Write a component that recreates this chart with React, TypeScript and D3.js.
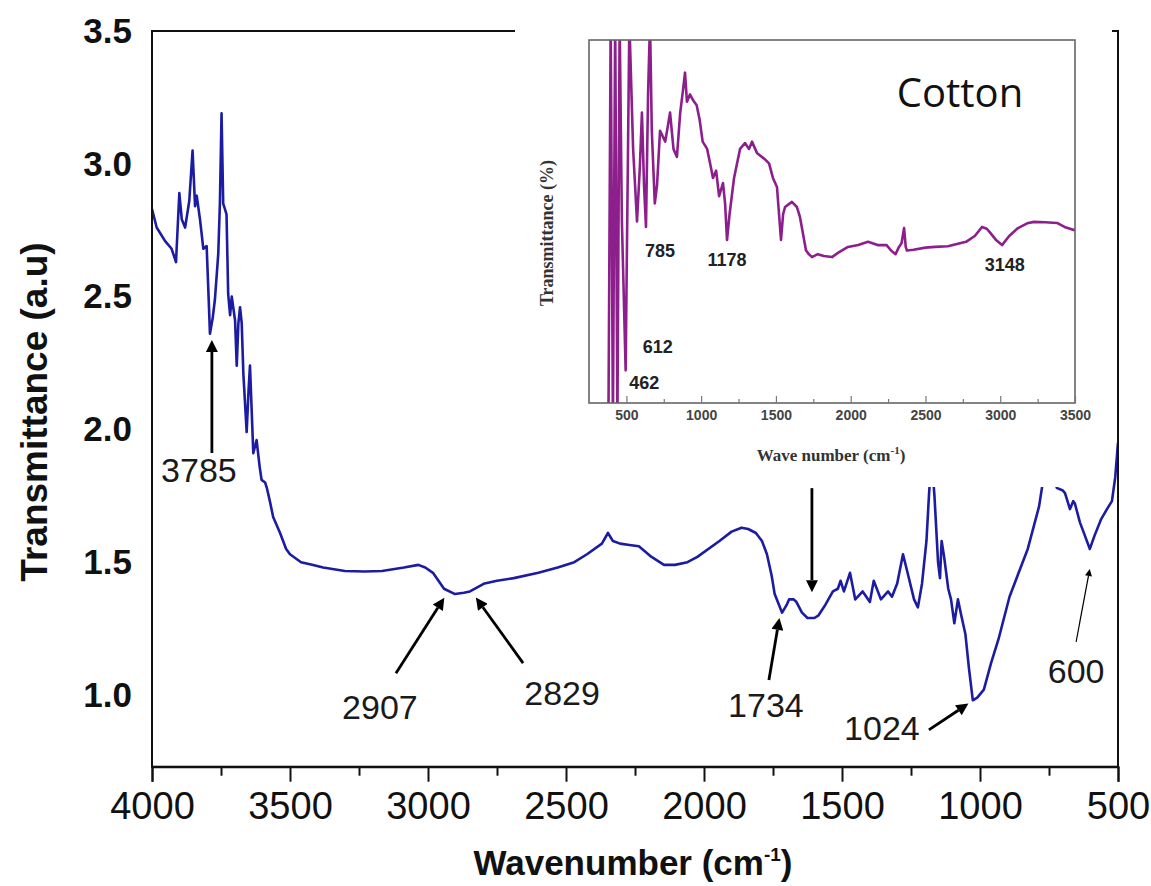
import React, { useEffect, useRef } from "react";
import * as d3 from "d3";

// main FTIR spectrum
const mainWavenumber = [
  4000, 3983, 3953, 3929, 3913, 3901, 3892, 3880, 3865, 3853, 3844, 3838, 3826, 3814, 3802, 3795,
  3790, 3780, 3772, 3760, 3754, 3748, 3742, 3736, 3730, 3724, 3717, 3711, 3699, 3693, 3687, 3681,
  3675, 3669, 3657, 3650, 3645, 3633, 3621, 3610, 3603, 3590, 3584, 3573, 3561, 3536, 3514, 3500,
  3460, 3420, 3380, 3301, 3230, 3167, 3087, 3035, 3010, 2982, 2942, 2902, 2870, 2848, 2795, 2750,
  2689, 2600, 2530, 2470, 2424, 2370, 2348, 2330, 2304, 2270, 2236, 2190, 2145, 2105, 2060, 2024,
  1944, 1900, 1864, 1840, 1812, 1790, 1772, 1755, 1744, 1717, 1700, 1692, 1675, 1665, 1645, 1625,
  1600, 1585, 1560, 1533, 1515, 1505, 1493, 1471, 1452, 1425, 1399, 1385, 1359, 1333, 1319, 1300,
  1279, 1260, 1239, 1225, 1210, 1194, 1185, 1176, 1165, 1152, 1145, 1139, 1130, 1115, 1105, 1093,
  1080, 1068, 1053, 1040, 1026, 1010, 986, 960, 933, 893, 860, 827, 786, 765, 740, 722,
  700, 692, 674, 662, 656, 638, 620, 602, 585, 562, 540, 522, 510, 500,
];
const mainTransmittance = [
  2.83, 2.76, 2.71, 2.68, 2.63, 2.89, 2.79, 2.76, 2.86, 3.05, 2.84, 2.88, 2.79, 2.68, 2.69, 2.5,
  2.36, 2.42, 2.49, 2.66, 2.85, 3.19, 2.85, 2.83, 2.81, 2.51, 2.43, 2.5, 2.41, 2.24, 2.4, 2.46,
  2.4, 2.21, 1.99, 2.15, 2.24, 1.91, 1.96, 1.86, 1.81, 1.8, 1.78, 1.73, 1.67, 1.61, 1.55, 1.53,
  1.5, 1.49, 1.48, 1.467, 1.465, 1.467, 1.48, 1.49, 1.48, 1.46, 1.4, 1.38, 1.385, 1.39, 1.42, 1.43,
  1.44, 1.46, 1.48, 1.5, 1.53, 1.57, 1.61, 1.58, 1.57, 1.565, 1.56, 1.52, 1.49, 1.49, 1.5, 1.52,
  1.58, 1.615, 1.63, 1.625, 1.61, 1.58, 1.53, 1.45, 1.38, 1.31, 1.34, 1.36, 1.36, 1.35, 1.31, 1.29,
  1.29, 1.3, 1.34, 1.39, 1.4, 1.43, 1.39, 1.46, 1.36, 1.39, 1.35, 1.43, 1.36, 1.39, 1.37, 1.42,
  1.53, 1.45, 1.36, 1.33, 1.42, 1.58, 1.75, 1.9, 1.75, 1.5, 1.44, 1.58, 1.52, 1.4, 1.36, 1.27,
  1.36, 1.3, 1.23, 1.1, 0.98, 0.99, 1.02, 1.12, 1.21, 1.37, 1.46, 1.55, 1.71, 1.85, 1.9, 1.78,
  1.77, 1.76, 1.7, 1.73, 1.72, 1.65, 1.6, 1.55, 1.6, 1.66, 1.7, 1.73, 1.82, 1.95,
];

// inset spectrum (Cotton), arbitrary % scale
const insetWavenumber = [
  380, 395, 410, 425, 440, 455, 470, 495, 520, 545, 571, 590, 604, 618, 631, 645, 658, 670, 690, 705,
  725, 760, 792, 815, 838, 860, 878, 892, 905, 925, 945, 970, 990, 1010, 1040, 1060, 1079, 1100, 1120,
  1146, 1160, 1173, 1190, 1220, 1260, 1293, 1320, 1340, 1373, 1400, 1430, 1454, 1480, 1507, 1534, 1548,
  1561, 1607, 1640, 1661, 1701, 1720, 1741, 1780, 1820, 1875, 1920, 1982, 2050, 2116, 2180, 2240, 2270,
  2300, 2323, 2340, 2357, 2368, 2376, 2420, 2500, 2564, 2650, 2771, 2830, 2878, 2910, 2931, 2970, 3012,
  3060, 3119, 3180, 3226, 3300, 3380, 3430, 3487, 3500,
];
const insetTransmittance = [
  -5, 105, -5, 105, -5, 105, 50, 9, 105, 70, 50, 65, 80, 60, 48.5, 85, 105, 75, 55, 60,
  75, 72, 80, 70, 67.8, 80, 86, 91, 83, 85, 83.5, 82, 78, 72, 70, 66, 62, 64, 57,
  60.6, 55, 44.9, 52, 62, 70, 71.6, 70, 72, 68.9, 68, 67, 66, 62, 59.5, 44.9, 52,
  54, 55.4, 54, 51.2, 42.1, 41, 40.2, 41, 40.5, 40.2, 41.5, 43, 43.5, 44.4, 43.5, 43.5, 42,
  41, 43, 44, 48.2, 43, 42, 42.2, 42.8, 43, 43.2, 44.4, 46, 48.5, 48, 47, 45, 43.5,
  46, 48.2, 49.5, 49.9, 49.8, 49.6, 48.5, 47.7, 47.7,
];

const mainXTicks = [4000, 3500, 3000, 2500, 2000, 1500, 1000, 500];
const mainYTicks = [1.0, 1.5, 2.0, 2.5, 3.0, 3.5];
const insetXTicks = [500, 1000, 1500, 2000, 2500, 3000, 3500];

const mainPeakLabels = ["3785", "2907", "2829", "1734", "", "1024", "600"];
const insetPeakLabels = ["785", "1178", "3148", "612", "462"];

const SANS = "'Liberation Sans', Arial, sans-serif";
const SERIF = "'Liberation Serif', 'Times New Roman', serif";

const App = () => {
  const ref = useRef<SVGSVGElement>(null);

  useEffect(() => {
    const W = 1151;
    const H = 886;
    const svg = d3.select(ref.current).attr("width", W).attr("height", H);
    svg.selectAll("*").remove();
    svg.append("rect").attr("width", W).attr("height", H).attr("fill", "#fff");

    const left = 152, right = 1118, top = 31;
    const x = d3.scaleLinear().domain([4000, 500]).range([left, right]);
    const y = d3.scaleLinear().domain([1.0, 3.5]).range([695, top]);
    const bottom = y(0.73);

    const defs = svg.append("defs");
    defs.append("clipPath").attr("id", "mainClip")
      .append("rect").attr("x", left).attr("y", top).attr("width", right - left).attr("height", bottom - top);

    const mkArrow = (id: string, w: number, h: number) =>
      defs.append("marker").attr("id", id).attr("viewBox", "0 0 10 10")
        .attr("refX", 0).attr("refY", 5).attr("markerWidth", w).attr("markerHeight", h)
        .attr("markerUnits", "userSpaceOnUse").attr("orient", "auto")
        .append("path").attr("d", "M0,0 L10,5 L0,10 z").attr("fill", "#000");
    mkArrow("head", 15, 12);
    mkArrow("headThin", 9, 7);

    // main spectrum
    const mainPts: [number, number][] = mainWavenumber.map((w, i) => [w, mainTransmittance[i]]);
    const line = d3.line<[number, number]>().x((d) => x(d[0])).y((d) => y(d[1]));
    svg.append("path").datum(mainPts).attr("d", line).attr("fill", "none")
      .attr("stroke", "#1c1ca2").attr("stroke-width", 2.6).attr("stroke-linejoin", "round")
      .attr("clip-path", "url(#mainClip)");

    // frame
    svg.append("rect").attr("x", left).attr("y", top).attr("width", right - left).attr("height", bottom - top)
      .attr("fill", "none").attr("stroke", "#111").attr("stroke-width", 2);

    // x axis
    const xAxis = svg.append("g").attr("transform", `translate(0,${bottom})`)
      .call(d3.axisBottom(x).tickValues(mainXTicks).tickSize(15).tickPadding(10).tickFormat(d3.format("d")));
    xAxis.select(".domain").attr("stroke", "#111").attr("stroke-width", 2);
    xAxis.selectAll(".tick line").attr("stroke", "#111").attr("stroke-width", 2);
    xAxis.selectAll("text").style("font-family", SANS).style("font-size", "38px").attr("fill", "#111");
    const minor = d3.range(3750, 500, -500);
    const xMinor = svg.append("g").attr("transform", `translate(0,${bottom})`)
      .call(d3.axisBottom(x).tickValues(minor).tickSize(9).tickFormat(() => ""));
    xMinor.select(".domain").remove();
    xMinor.selectAll(".tick line").attr("stroke", "#111").attr("stroke-width", 2);

    // y axis labels
    const yAxis = svg.append("g").attr("transform", `translate(${left},0)`)
      .call(d3.axisLeft(y).tickValues(mainYTicks).tickSize(0).tickPadding(20).tickFormat(d3.format(".1f")));
    yAxis.select(".domain").remove();
    yAxis.selectAll("text").style("font-family", SANS).style("font-size", "35px")
      .style("font-weight", "bold").attr("fill", "#111");

    // axis titles
    svg.append("text").attr("transform", `translate(34,${(237 + 587) / 2}) rotate(-90)`)
      .attr("text-anchor", "middle").attr("dominant-baseline", "central")
      .style("font-family", SANS).style("font-size", "37px").style("font-weight", "bold").attr("fill", "#111")
      .text("Transmittance (a.u)");
    const xt = svg.append("text").attr("x", 633).attr("y", 875).attr("text-anchor", "middle")
      .style("font-family", SANS).style("font-size", "35px").style("font-weight", "bold").attr("fill", "#111");
    xt.append("tspan").text("Wavenumber (cm");
    xt.append("tspan").attr("dy", -14).style("font-size", "19px").text("-1");
    xt.append("tspan").attr("dy", 14).text(")");

    // peak arrows on main plot: tip in data coords, tail/label offsets in px
    const arrows = [
      { wn: 3783, v: 2.348, tail: [0, 116], lab: [-13, 133], thin: false },
      { wn: 2935, v: 1.376, tail: [-50, 78], lab: [-66, 112], thin: false },
      { wn: 2833, v: 1.376, tail: [49, 68], lab: [88, 98], thin: false },
      { wn: 1725, v: 1.301, tail: [-11, 65], lab: [-14, 90], thin: false },
      { wn: 1609, v: 1.376, tail: [0, -107], lab: [0, 0], thin: false },
      { wn: 1033, v: 0.974, tail: [-42, 28], lab: [-89, 26], thin: false },
      { wn: 601, v: 1.482, tail: [-14, 75], lab: [-14, 104], thin: true },
    ];
    arrows.forEach((a, i) => {
      const tx = x(a.wn), ty = y(a.v);
      const sx = tx + a.tail[0], sy = ty + a.tail[1];
      const len = Math.hypot(tx - sx, ty - sy);
      const head = a.thin ? 9 : 15;
      const ex = tx - ((tx - sx) / len) * head, ey = ty - ((ty - sy) / len) * head;
      svg.append("line").attr("x1", sx).attr("y1", sy).attr("x2", ex).attr("y2", ey)
        .attr("stroke", "#000").attr("stroke-width", a.thin ? 1.2 : 2.8)
        .attr("marker-end", a.thin ? "url(#headThin)" : "url(#head)");
      if (mainPeakLabels[i]) {
        svg.append("text").attr("x", tx + a.lab[0]).attr("y", ty + a.lab[1])
          .attr("text-anchor", "middle").attr("dominant-baseline", "central")
          .style("font-family", SANS).style("font-size", "34px").attr("fill", "#1a1a1a")
          .text(mainPeakLabels[i]);
      }
    });

    // ---- inset ----
    svg.append("rect").attr("x", 515).attr("y", 20).attr("width", 1112 - 515).attr("height", 487 - 20)
      .attr("fill", "#fff");

    const il = 589, ir = 1075, it = 40, ib = 403;
    const xi = d3.scaleLinear().domain([250, 3500]).range([il, ir]);
    const yi = d3.scaleLinear().domain([0, 100]).range([ib, it]);
    defs.append("clipPath").attr("id", "insetClip")
      .append("rect").attr("x", il).attr("y", it).attr("width", ir - il).attr("height", ib - it);

    const insetPts: [number, number][] = insetWavenumber.map((w, i) => [w, insetTransmittance[i]]);
    const iline = d3.line<[number, number]>().x((d) => xi(d[0])).y((d) => yi(d[1]));
    svg.append("path").datum(insetPts).attr("d", iline).attr("fill", "none")
      .attr("stroke", "#8c1f8c").attr("stroke-width", 2.6).attr("stroke-linejoin", "round")
      .attr("clip-path", "url(#insetClip)");

    svg.append("rect").attr("x", il).attr("y", it).attr("width", ir - il).attr("height", ib - it)
      .attr("fill", "none").attr("stroke", "#666").attr("stroke-width", 1.6);

    const ixAxis = svg.append("g").attr("transform", `translate(0,${ib})`)
      .call(d3.axisBottom(xi).tickValues(insetXTicks).tickSize(-7).tickPadding(7).tickFormat(d3.format("d")));
    ixAxis.select(".domain").remove();
    ixAxis.selectAll(".tick line").attr("stroke", "#777").attr("stroke-width", 1.2);
    ixAxis.selectAll("text").style("font-family", SANS).style("font-size", "14px")
      .style("font-weight", "bold").attr("fill", "#444");
    const ixMinor = svg.append("g").attr("transform", `translate(0,${ib})`)
      .call(d3.axisBottom(xi).tickValues(d3.range(750, 3500, 500)).tickSize(-4).tickFormat(() => ""));
    ixMinor.select(".domain").remove();
    ixMinor.selectAll(".tick line").attr("stroke", "#777").attr("stroke-width", 1.2);

    const ixt = svg.append("text").attr("x", 831).attr("y", 461).attr("text-anchor", "middle")
      .style("font-family", SERIF).style("font-size", "17px").style("font-weight", "bold").attr("fill", "#333");
    ixt.append("tspan").text("Wave number (cm");
    ixt.append("tspan").attr("dy", -7).style("font-size", "11px").text("-1");
    ixt.append("tspan").attr("dy", 7).text(")");

    svg.append("text").attr("transform", `translate(547,233) rotate(-90)`)
      .attr("text-anchor", "middle").attr("dominant-baseline", "central")
      .style("font-family", SERIF).style("font-size", "18px").style("font-weight", "bold").attr("fill", "#333")
      .text("Transmittance (%)");

    svg.append("text").attr("x", 960).attr("y", 107).attr("text-anchor", "middle")
      .style("font-family", "'Open Sans', 'Noto Sans', sans-serif").style("font-size", "40px").attr("fill", "#111")
      .text("Cotton");

    // inset peak labels, anchored in data coords
    const insetLabelPos = [
      [725, 42], [1173, 39.5], [3030, 38], [710, 15.5], [620, 5.5],
    ];
    insetPeakLabels.forEach((t, i) => {
      svg.append("text").attr("x", xi(insetLabelPos[i][0])).attr("y", yi(insetLabelPos[i][1]))
        .attr("text-anchor", "middle").attr("dominant-baseline", "central")
        .style("font-family", SANS).style("font-size", "18px").style("font-weight", "bold").attr("fill", "#222")
        .text(t);
    });
  }, []);

  return (
    <div>
      <svg ref={ref} style={{ position: "absolute", left: 0, top: 0 }}></svg>
    </div>
  );
};

export default App;
